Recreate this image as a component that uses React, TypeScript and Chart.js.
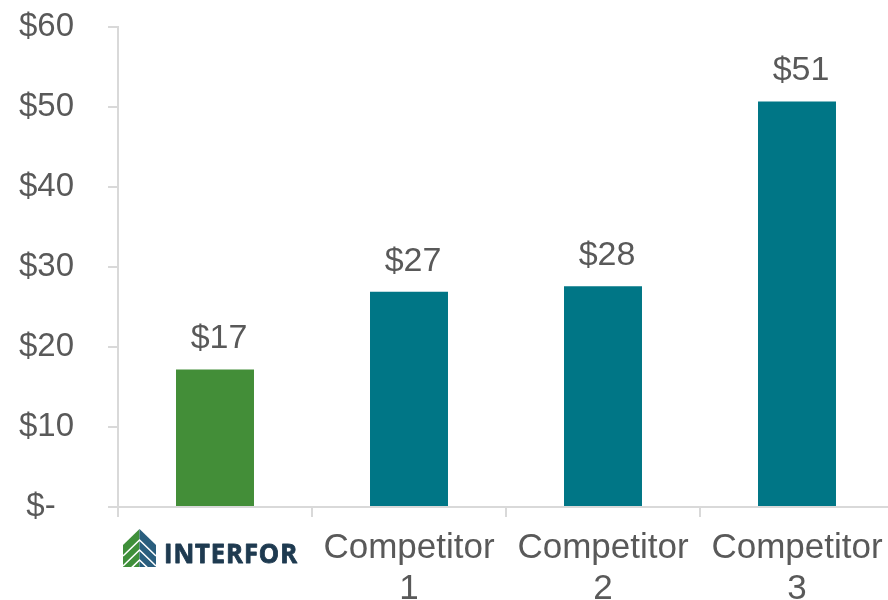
import React, { useEffect, useRef } from 'react';
import { Chart, registerables } from 'chart.js';

Chart.register(...registerables);

const categories = ['Interfor', 'Competitor 1', 'Competitor 2', 'Competitor 3'];
const values = [17.2, 26.9, 27.6, 50.7];
const barColors = ['#438E38', '#007686', '#007686', '#007686'];
const yTickValues = [0, 10, 20, 30, 40, 50, 60];
const yTickLabels = ['$-  ', '$10', '$20', '$30', '$40', '$50', '$60'];

const FONT = '"Liberation Sans", Arial, Helvetica, sans-serif';
const TEXT = '#595959';
const AXIS = '#d9d9d9';

export default function App() {
  const ref = useRef<HTMLCanvasElement>(null);

  useEffect(() => {
    document.body.style.margin = '0';
    document.body.style.overflow = 'hidden';
    const canvas = ref.current!;

    const valueLabels = {
      id: 'valueLabels',
      afterDatasetsDraw(chart: any) {
        const c = chart.ctx;
        const meta = chart.getDatasetMeta(0);
        c.save();
        c.font = `34px ${FONT}`;
        c.fillStyle = TEXT;
        c.textAlign = 'center';
        c.textBaseline = 'alphabetic';
        meta.data.forEach((el: any, i: number) => {
          c.fillText('$' + Math.round(values[i]), el.x + 4, el.y - 21);
        });
        c.restore();
      },
    };

    const logo = {
      id: 'logo',
      afterDraw(chart: any) {
        const c = chart.ctx;
        const xs = chart.scales.x;
        const cx = xs.getPixelForValue(0);
        const left = cx - 92;
        const w = 33;
        const mid = left + w / 2;
        const right = left + w;
        const top = 529;
        const eave = 545;
        const bottom = 567;
        c.save();
        c.beginPath();
        c.moveTo(mid, top);
        c.lineTo(right, eave);
        c.lineTo(right, bottom);
        c.lineTo(left, bottom);
        c.lineTo(left, eave);
        c.closePath();
        c.clip();
        c.fillStyle = '#3F8F3A';
        c.fillRect(left, top, w / 2, bottom - top);
        c.fillStyle = '#2A5E7E';
        c.fillRect(mid, top, w / 2, bottom - top);
        c.strokeStyle = '#ffffff';
        c.lineWidth = 1.6;
        [11, 21, 31].forEach((d) => {
          c.beginPath();
          c.moveTo(left, eave + d);
          c.lineTo(mid, top + d);
          c.lineTo(right, eave + d);
          c.stroke();
        });
        c.restore();

        c.save();
        c.font = `bold 27px "Open Sans", Lato, ${FONT}`;
        (c as any).letterSpacing = '1px';
        const tw = c.measureText('INTERFOR').width - 1;
        c.translate(cx - 51, 563);
        c.scale(133 / tw, 1);
        c.fillStyle = '#1E3A50';
        c.strokeStyle = '#1E3A50';
        c.lineWidth = 0.9;
        c.lineJoin = 'round';
        c.textAlign = 'left';
        c.textBaseline = 'alphabetic';
        c.fillText('INTERFOR', 0, 0);
        c.strokeText('INTERFOR', 0, 0);
        c.restore();
      },
    };

    const chart = new Chart(canvas, {
      type: 'bar',
      data: {
        labels: categories,
        datasets: [
          {
            data: values,
            backgroundColor: barColors,
            barPercentage: 0.402,
            categoryPercentage: 1,
          },
        ],
      },
      options: {
        responsive: false,
        animation: false,
        layout: { padding: { top: 27, right: 0, bottom: 0, left: 0 } },
        plugins: { legend: { display: false }, tooltip: { enabled: false } },
        scales: {
          x: {
            grid: {
              display: true,
              drawOnChartArea: false,
              drawTicks: true,
              tickLength: 10,
              color: AXIS,
              lineWidth: 2,
              offset: true,
            },
            border: { display: true, color: AXIS, width: 2 },
            ticks: {
              font: { family: FONT, size: 35, lineHeight: 1.17 },
              color: TEXT,
              padding: 11,
              maxRotation: 0,
              autoSkip: false,
              callback: (_v: any, i: number) => {
                if (i === 0) return '';
                const s = categories[i];
                const k = s.lastIndexOf(' ');
                return [s.slice(0, k), s.slice(k + 1)];
              },
            },
            afterFit: (s: any) => {
              s.height = 93;
              s.paddingLeft = 0;
              s.paddingRight = 0;
            },
          },
          y: {
            min: 0,
            max: 60,
            afterBuildTicks: (s: any) => {
              s.ticks = yTickValues.map((v) => ({ value: v }));
            },
            grid: {
              display: true,
              drawOnChartArea: false,
              drawTicks: true,
              tickLength: 10,
              color: AXIS,
              lineWidth: 2,
            },
            border: { display: true, color: AXIS, width: 2 },
            ticks: {
              font: { family: FONT, size: 33, lineHeight: 1.2 },
              color: TEXT,
              padding: 34,
              callback: (v: any) => yTickLabels[yTickValues.indexOf(Number(v))],
            },
            afterFit: (s: any) => {
              s.width = 118;
              s.paddingTop = 0;
              s.paddingBottom = 0;
            },
          },
        },
      },
      plugins: [valueLabels, logo],
    });
    return () => chart.destroy();
  }, []);

  return (
    <canvas
      ref={ref}
      width={894}
      height={600}
      style={{ position: 'fixed', left: 0, top: 0, width: 894, height: 600 }}
    />
  );
}
